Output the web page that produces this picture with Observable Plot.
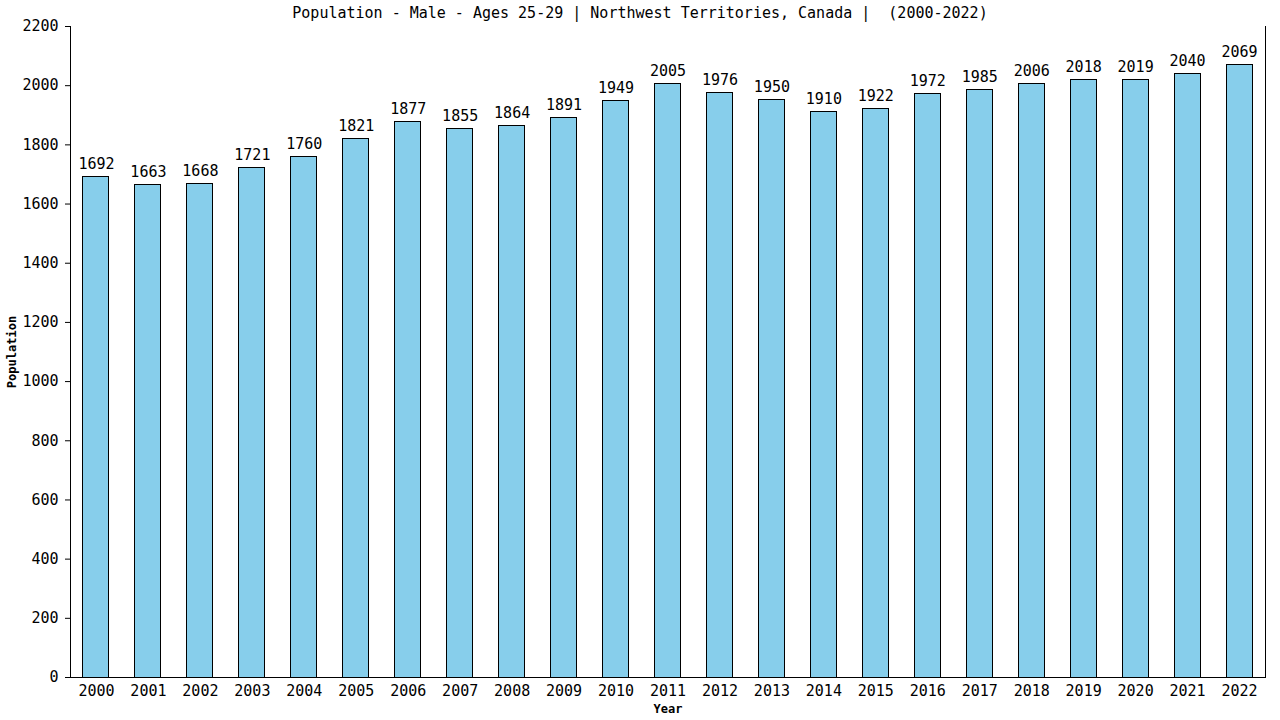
<!DOCTYPE html>
<html><head>
<meta charset="utf-8">
<script src="https://cdn.jsdelivr.net/npm/d3@7"></script>
<script src="https://cdn.jsdelivr.net/npm/@observablehq/plot@0.6"></script>
<style>
body{margin:0;background:#fff}
#c{position:relative;width:1280px;height:720px}
#t{position:absolute;top:4px;left:0;width:1280px;text-align:center;font:15px "DejaVu Sans Mono";color:#000;white-space:pre}
</style>
</head><body>
<div id="c"><div id="t">Population - Male - Ages 25-29 | Northwest Territories, Canada |  (2000-2022)</div></div>
<script>
const years = [2000,2001,2002,2003,2004,2005,2006,2007,2008,2009,2010,2011,2012,2013,2014,2015,2016,2017,2018,2019,2020,2021,2022];
const population = [1692,1663,1668,1721,1760,1821,1877,1855,1864,1891,1949,2005,1976,1950,1910,1922,1972,1985,2006,2018,2019,2040,2069];
const yTicks = [0,200,400,600,800,1000,1200,1400,1600,1800,2000,2200];
const data = years.map((y,i)=>({year:String(y), value:population[i]}));

const chart = Plot.plot({
  width:1280, height:720,
  marginLeft:70, marginRight:15, marginTop:26, marginBottom:43,
  style:{fontFamily:"DejaVu Sans Mono", fontSize:"15px", background:"white", color:"black"},
  x:{domain:years.map(String), paddingInner:0.5, paddingOuter:0.25, round:false},
  y:{domain:[0,2200]},
  marks:[
    Plot.barY(data,{x:"year", y:"value", fill:"#87CEEB", stroke:"black", strokeWidth:1, shapeRendering:"crispEdges"}),
    Plot.text(data,{x:"year", y:"value", text:d=>String(d.value), dy:-8, lineAnchor:"bottom", fontSize:15}),
    Plot.axisY({ticks:yTicks, tickFormat:d3.format("d"), tickSize:5, tickPadding:7, label:null, fontSize:15}),
    Plot.axisX({tickSize:0, tickPadding:8, label:null, fontSize:15}),
    Plot.frame({anchor:"left", shapeRendering:"crispEdges"}),
    Plot.frame({anchor:"right", shapeRendering:"crispEdges"}),
    Plot.frame({anchor:"bottom", shapeRendering:"crispEdges"}),
    Plot.text(["Year"],{frameAnchor:"bottom", dy:35, fontSize:12, fontWeight:"bold"}),
    Plot.text(["Population"],{frameAnchor:"left", dx:-58, textAnchor:"middle", rotate:-90, fontSize:12, fontWeight:"bold"})
  ]
});
document.getElementById("c").prepend(chart);
</script>
</body></html>
